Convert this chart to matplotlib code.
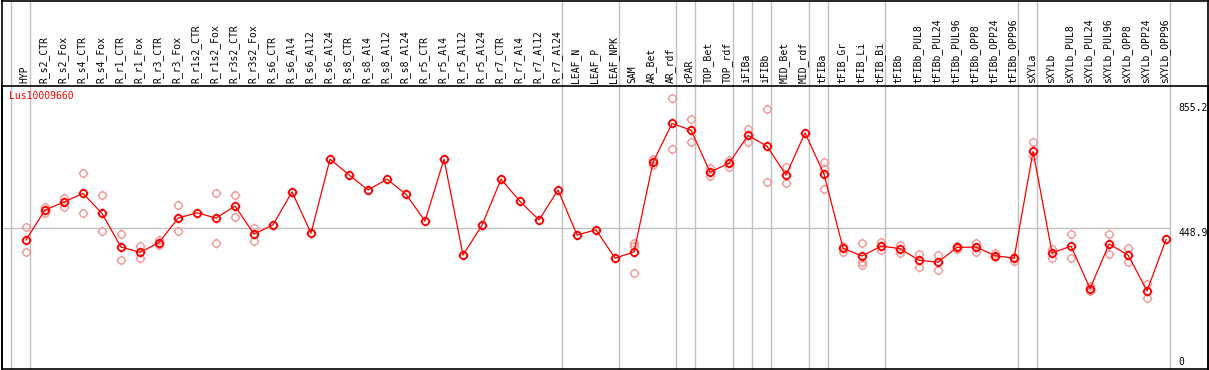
#!/usr/bin/env python3
import matplotlib
matplotlib.use('Agg')
import matplotlib.pyplot as plt
from matplotlib.lines import Line2D
from matplotlib.path import Path

# Sample names (columns)
labels = ['HYP', 'R_s2_CTR', 'R_s2_Fox', 'R_s4_CTR', 'R_s4_Fox', 'R_r1_CTR', 'R_r1_Fox',
          'R_r3_CTR', 'R_r3_Fox', 'R_r1s2_CTR', 'R_r1s2_Fox', 'R_r3s2_CTR', 'R_r3s2_Fox',
          'R_s6_CTR', 'R_s6_Al4', 'R_s6_Al12', 'R_s6_Al24', 'R_s8_CTR', 'R_s8_Al4',
          'R_s8_Al12', 'R_s8_Al24', 'R_r5_CTR', 'R_r5_Al4', 'R_r5_Al12', 'R_r5_Al24',
          'R_r7_CTR', 'R_r7_Al4', 'R_r7_Al12', 'R_r7_Al24', 'LEAF_N', 'LEAF_P', 'LEAF_NPK',
          'SAM', 'AR_Bet', 'AR_rdf', 'cPAR', 'TOP_Bet', 'TOP_rdf', 'iFIBa', 'iFIBb',
          'MID_Bet', 'MID_rdf', 'tFIBa', 'tFIB_Gr', 'tFIB_Li', 'tFIB_Bi', 'tFIBb',
          'tFIBb_PUL8', 'tFIBb_PUL24', 'tFIBb_PUL96', 'tFIBb_OPP8', 'tFIBb_OPP24',
          'tFIBb_OPP96', 'sXYLa', 'sXYLb', 'sXYLb_PUL8', 'sXYLb_PUL24', 'sXYLb_PUL96',
          'sXYLb_OPP8', 'sXYLb_OPP24', 'sXYLb_OPP96']

# Mean expression per sample
means = [411, 508, 534, 562, 497, 388, 371, 402, 482, 499, 482, 521, 430,
         460, 567, 433, 673, 622, 573, 608, 559, 472, 673, 362, 459,
         608, 536, 476, 573, 427, 444, 352,
         372, 663, 789, 767, 631, 660, 750, 715, 621, 758,
         624, 384, 359, 391, 383,
         345, 339, 387, 388, 360, 352,
         698, 369, 391, 253, 398, 362, 246, 413]

# Individual replicates (where visible)
replicates = [[453, 371], [517, 497], [547, 517], [627, 497], [556, 440], [429, 345],
              [392, 353], [411, 394], [523, 440], [], [562, 400], [556, 486], [450, 408],
              [], [], [], [], [], [], [], [], [], [], [], [], [], [], [], [], [], [], [],
              [400, 392, 303], [674, 654], [870, 705], [802, 728], [643, 619], [670, 649],
              [770, 728], [835, 598], [647, 595], [],
              [663, 640, 576], [392, 373], [400, 341, 329], [404, 378], [395, 368],
              [366, 322], [361, 313], [391, 383], [401, 372], [370, 357], [357, 343],
              [728, 683], [383, 352], [430, 352], [263, 246], [430, 364], [384, 341],
              [267, 224], []]

# Last column index of each sample group (grey separators)
group_ends = [-1, 0, 28, 31, 34, 35, 37, 38, 39, 41, 42, 45, 52, 53, 60]

gene = 'Lus10009660'
ref_line = 448.9
y_ticks = [855.2, 448.9, 0]

W, H = 1209, 370
plt.rcParams['font.family'] = 'DejaVu Sans Mono'
fig = plt.figure(figsize=(W / 100, H / 100), dpi=100)
ax = fig.add_axes([1.5 / W, 1 / H, 1206 / W, 283.3 / H])
ax.set_xlim(-1.289, 62.18)
ax.set_ylim(-7.46, 911.2)
ax.set_xticks([])
ax.set_yticks([])
for s in ax.spines.values():
    s.set_linewidth(1.2)
    s.set_color('black')

grey = '#c0c0c0'
top_frac = 369 / 283.3
for g in group_ends:
    ax.axvline(g + 0.22, ymin=0, ymax=top_frac, color=grey, lw=1, clip_on=False, zorder=1)
ax.hlines(ref_line, -1.289, group_ends[-1] + 0.22, color=grey, lw=1, zorder=1)

# outer frame above the plot
fig.add_artist(Line2D([1.5 / W, 1207.5 / W], [1 - 0.6 / H] * 2, color='black', lw=1.2))
fig.add_artist(Line2D([1.5 / W] * 2, [1 / H, 1], color='black', lw=1.2))
fig.add_artist(Line2D([1207.5 / W] * 2, [1 / H, 1], color='black', lw=1.2))

# circle with small ticks, like the original marker
ticks = Path([(1, 0), (1.35, 0), (-1, 0), (-1.35, 0), (0, 1), (0, 1.35), (0, -1), (0, -1.35)],
             [Path.MOVETO, Path.LINETO] * 4)
marker = Path.make_compound_path(Path.unit_circle(), ticks)

x = list(range(len(labels)))
rx = [i for i, r in enumerate(replicates) for _ in r]
ry = [v for r in replicates for v in r]
ax.plot(rx, ry, ls='none', marker=marker, ms=7, mfc='none', mec='#f09a9a', mew=1.0, zorder=2)
ax.plot(x, means, color='red', lw=0.9, marker=marker, ms=7, mfc='none', mec='red',
        mew=1.3, zorder=3)

# rotated column labels
for i, lab in enumerate(labels):
    ax.text(i - 0.08, (369 - 83) / 283.3, lab, rotation=90, ha='center', va='bottom',
            fontsize=7, transform=ax.get_xaxis_transform())

ax.text(9.5 / W, 1 - 91 / H, gene, color='red', fontsize=7, ha='left', va='top',
        transform=fig.transFigure)

# value labels on the right
tick_x = (1178 - 26) / 19
for v in y_ticks:
    ax.text(tick_x, v, f'{v:g}' if v else '0', fontsize=7, ha='left',
            va='bottom' if v == 0 else 'top', clip_on=True)

fig.savefig('out.png', dpi=100)
